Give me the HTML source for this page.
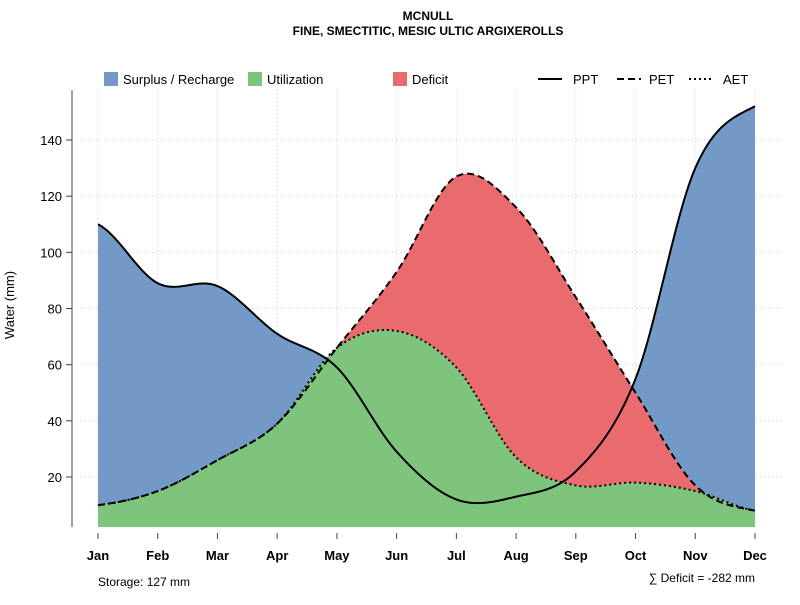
<!DOCTYPE html>
<html><head><meta charset="utf-8"><style>
body{margin:0;background:#fff}
svg text{font-family:"Liberation Sans",sans-serif}
</style></head><body>
<svg id="c" width="800" height="600" viewBox="0 0 800 600" xmlns="http://www.w3.org/2000/svg">
<text x="428" y="20" text-anchor="middle" font-size="12" font-weight="bold">MCNULL</text>
<text x="428" y="35" text-anchor="middle" font-size="12" font-weight="bold">FINE, SMECTITIC, MESIC ULTIC ARGIXEROLLS</text>
<g id="grid"></g>
<g id="areas"></g>
<g id="lines"></g>
<g id="axes"></g>
<text transform="translate(14,305) rotate(-90)" text-anchor="middle" font-size="13">Water (mm)</text>
<g font-size="13">
<rect x="104" y="72" width="14" height="14" fill="#7399c6"/>
<text x="123" y="84">Surplus / Recharge</text>
<rect x="248" y="72" width="14" height="14" fill="#7fc47c"/>
<text x="267" y="84">Utilization</text>
<rect x="393" y="72" width="14" height="14" fill="#ea6b6d"/>
<text x="412" y="84">Deficit</text>
<line x1="538" y1="79" x2="562" y2="79" stroke="#000" stroke-width="2"/>
<text x="573" y="84">PPT</text>
<line x1="617" y1="79" x2="641" y2="79" stroke="#000" stroke-width="2" stroke-dasharray="7,4"/>
<text x="649" y="84">PET</text>
<line x1="689" y1="79" x2="713" y2="79" stroke="#000" stroke-width="2" stroke-dasharray="2,3"/>
<text x="723" y="84">AET</text>
</g>
<text x="98" y="586" font-size="12">Storage: 127 mm</text>
<text x="755" y="582" text-anchor="end" font-size="12">∑ Deficit = -282 mm</text>
</svg>
<script>
const months=["Jan","Feb","Mar","Apr","May","Jun","Jul","Aug","Sep","Oct","Nov","Dec"];
const ppt=[110,89,88,71,59,29,12,13,22,55,130,152];
const pet=[10,15,26,39,66,93,127,116,84,50,17,8];
const aet=[10,15,26,39,66,72,59,27,17,18,15,8];
const yTicks=[20,40,60,80,100,120,140];
const NS="http://www.w3.org/2000/svg";
const xs=i=>98+i*(755-98)/11;
const ys=v=>477-(v-20)*(477-140)/120;
const yBase=527;
function mk(t,a,p){const e=document.createElementNS(NS,t);for(const k in a)e.setAttribute(k,a[k]);p.appendChild(e);return e;}
function spline(d){const out=[];const n=d.length;const S=20;
 for(let i=0;i<n-1;i++){const p0=d[Math.max(0,i-1)],p1=d[i],p2=d[i+1],p3=d[Math.min(n-1,i+2)];
  for(let s=0;s<S;s++){const t=s/S,t2=t*t,t3=t2*t;
   out.push({i:i+t,v:0.5*(2*p1+(-p0+p2)*t+(2*p0-5*p1+4*p2-p3)*t2+(-p0+3*p1-3*p2+p3)*t3)});}}
 out.push({i:n-1,v:d[n-1]});return out;}
const sP=spline(ppt),sE=spline(pet),sA=spline(aet);
const gridG=document.getElementById('grid'),areasG=document.getElementById('areas'),linesG=document.getElementById('lines'),axesG=document.getElementById('axes');
yTicks.forEach(v=>{const l=mk('line',{x1:80,x2:782,y1:ys(v),y2:ys(v),stroke:'#ccc','stroke-dasharray':'1,3'},gridG);

});
months.forEach((m,i)=>{const l=mk('line',{x1:xs(i),x2:xs(i),y1:90,y2:yBase,stroke:'#ccc','stroke-dasharray':'1,3'},gridG);

});
function pts(a){return a.map(p=>xs(p.i)+','+ys(p.v)).join(' ');}
const r=mk('path',{d:'M'+xs(0)+','+yBase+' L'+pts(sE)+' L'+xs(11)+','+yBase+' Z',fill:'#ea6b6d'},areasG);


const topPts=sE.map((p,k)=>xs(p.i)+','+ys(Math.max(p.v,sP[k].v))).join(' ');
const botPts=sE.slice().reverse().map(p=>xs(p.i)+','+ys(p.v)).join(' ');
const b=mk('path',{d:'M'+topPts+' L'+botPts+' Z',fill:'#7399c6'},areasG);


const g=mk('path',{d:'M'+xs(0)+','+yBase+' L'+pts(sA)+' L'+xs(11)+','+yBase+' Z',fill:'#7fc47c'},areasG);


const lp=mk('polyline',{points:pts(sP),fill:'none',stroke:'#000','stroke-width':2},linesG);


const le=mk('polyline',{points:pts(sE),fill:'none',stroke:'#000','stroke-width':2,'stroke-dasharray':'7,4'},linesG);


const la=mk('polyline',{points:pts(sA),fill:'none',stroke:'#000','stroke-width':2,'stroke-dasharray':'2,3'},linesG);


const ya=mk('line',{x1:72,x2:72,y1:90,y2:yBase,stroke:'#444'},axesG);


yTicks.forEach(v=>{const t=mk('line',{x1:66,x2:72,y1:ys(v),y2:ys(v),stroke:'#444'},axesG);


const tx=mk('text',{x:62,y:ys(v)+5,'text-anchor':'end','font-size':13},axesG);tx.textContent=v;

});
months.forEach((m,i)=>{const t=mk('line',{x1:xs(i),x2:xs(i),y1:533,y2:539,stroke:'#444'},axesG);


const tx=mk('text',{x:xs(i),y:560,'text-anchor':'middle','font-size':13,'font-weight':'bold'},axesG);tx.textContent=m;

});
</script>
</body></html>
